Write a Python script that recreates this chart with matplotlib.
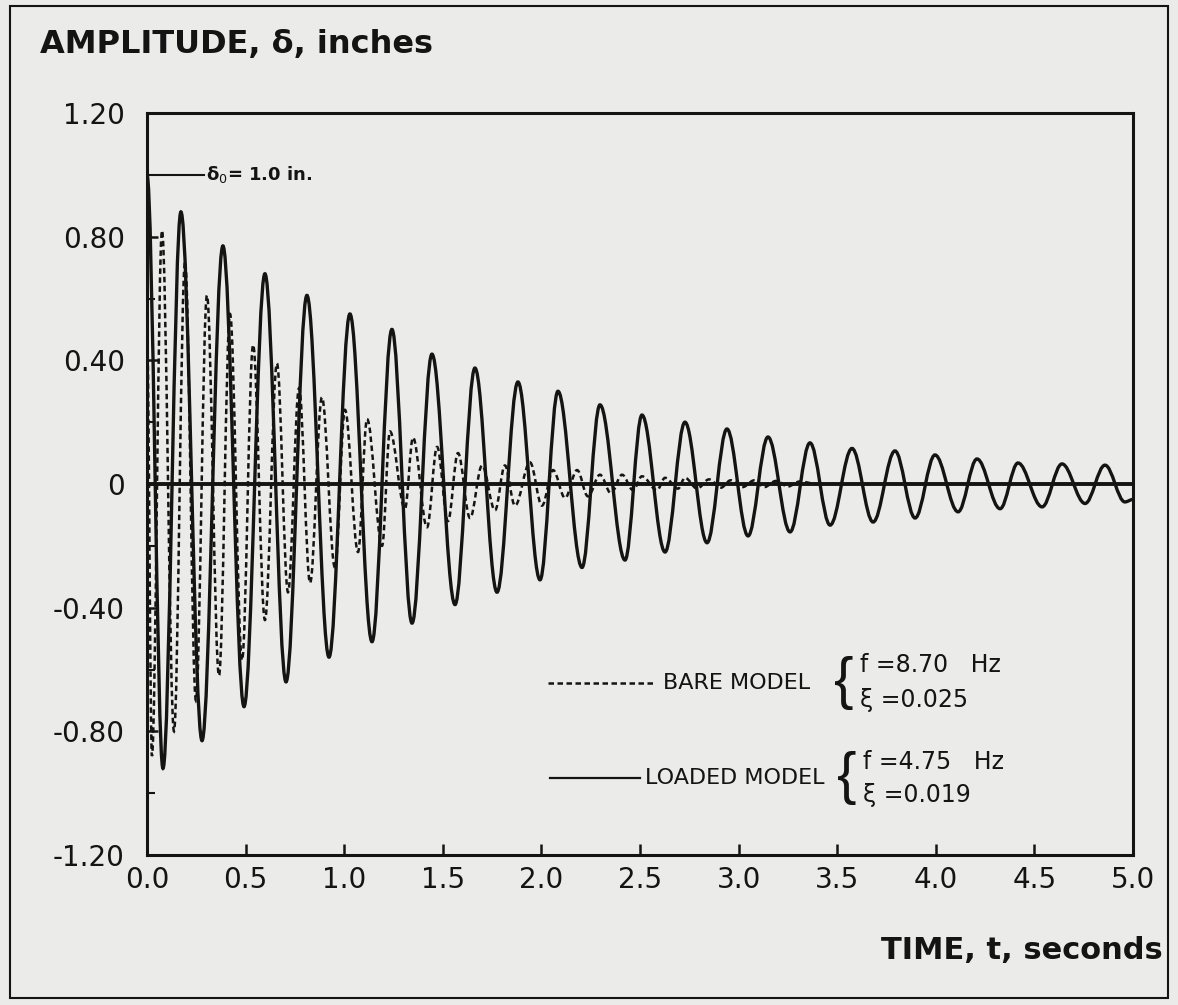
import matplotlib
matplotlib.use("Agg")
import matplotlib.pyplot as plt
from matplotlib.path import Path
from matplotlib.patches import PathPatch, Rectangle


# ----------------------------------------------------------------------
# data: turning points (time s, amplitude in)
# ----------------------------------------------------------------------

loaded_t = [0.000, 0.081, 0.172, 0.279, 0.385, 0.492, 0.598, 0.705, 0.811, 0.923,
            1.029, 1.141, 1.242, 1.344, 1.445, 1.562, 1.663, 1.775, 1.881, 1.993,
            2.084, 2.206, 2.297, 2.424, 2.510, 2.627, 2.728, 2.840, 2.941, 3.048,
            3.149, 3.261, 3.362, 3.464, 3.575, 3.682, 3.793, 3.895, 3.996, 4.113,
            4.209, 4.326, 4.417, 4.539, 4.640, 4.757, 4.858, 4.959, 5.000]
loaded_amp = [1.00, -0.92, 0.88, -0.83, 0.77, -0.72, 0.68, -0.64, 0.61, -0.56,
              0.55, -0.51, 0.50, -0.45, 0.42, -0.39, 0.375, -0.35, 0.33, -0.31,
              0.30, -0.27, 0.256, -0.246, 0.223, -0.22, 0.20, -0.19, 0.178, -0.168,
              0.152, -0.155, 0.133, -0.133, 0.115, -0.123, 0.107, -0.11, 0.094, -0.09,
              0.081, -0.08, 0.068, -0.074, 0.065, -0.063, 0.061, -0.058, -0.05]

bare_t = [0.000, 0.025, 0.076, 0.137, 0.193, 0.248, 0.304, 0.365, 0.421, 0.482,
          0.538, 0.598, 0.659, 0.715, 0.771, 0.827, 0.887, 0.953, 1.004, 1.070,
          1.116, 1.192, 1.232, 1.308, 1.349, 1.420, 1.471, 1.526, 1.577, 1.638,
          1.699, 1.765, 1.815, 1.866, 1.942, 2.003, 2.059, 2.120, 2.181, 2.236,
          2.297, 2.353, 2.409, 2.465, 2.510, 2.586, 2.627, 2.693, 2.728, 2.790,
          2.850, 2.910, 2.960, 3.020, 3.080, 3.130, 3.190, 3.250, 3.310, 3.400]
bare_amp = [0.50, -0.88, 0.82, -0.80, 0.72, -0.70, 0.61, -0.62, 0.55, -0.57,
            0.45, -0.44, 0.39, -0.35, 0.31, -0.32, 0.28, -0.27, 0.24, -0.22,
            0.21, -0.20, 0.17, -0.08, 0.15, -0.14, 0.12, -0.12, 0.10, -0.11,
            0.06, -0.085, 0.06, -0.07, 0.07, -0.07, 0.045, -0.045, 0.045, -0.04,
            0.03, -0.03, 0.03, -0.02, 0.025, -0.02, 0.02, -0.015, 0.02, -0.015,
            0.015, -0.012, 0.012, -0.01, 0.012, -0.01, 0.01, -0.008, 0.008, 0.0]

x_ticks = [0.0, 0.5, 1.0, 1.5, 2.0, 2.5, 3.0, 3.5, 4.0, 4.5, 5.0]
x_tick_labels = ["0.0", "0.5", "1.0", "1.5", "2.0", "2.5", "3.0", "3.5", "4.0", "4.5", "5.0"]
y_ticks = [1.20, 0.80, 0.40, 0.0, -0.40, -0.80, -1.20]
y_tick_labels = ["1.20", "0.80", "0.40", "0", "-0.40", "-0.80", "-1.20"]
y_minor = [1.0, 0.6, 0.2, -0.2, -0.6, -1.0]

PAPER = "#ebebe9"
INK = "#141414"
DASH = (0, (2.2, 1.4))


def turning_point_path(ts, amps, k=0.36):
    """Smooth path through the turning points, flat tangent at each one."""
    verts = [(ts[0], amps[0])]
    codes = [Path.MOVETO]
    for i in range(len(ts) - 1):
        t0, a0, t1, a1 = ts[i], amps[i], ts[i + 1], amps[i + 1]
        dt = t1 - t0
        verts += [(t0 + k * dt, a0), (t1 - k * dt, a1), (t1, a1)]
        codes += [Path.CURVE4] * 3
    return Path(verts, codes)


fig = plt.figure(figsize=(11.78, 10.05), dpi=100, facecolor=PAPER)
ax = fig.add_axes([147 / 1178, 1 - 855 / 1005, 986 / 1178, 742 / 1005])
ax.set_facecolor("none")

# curves
ax.add_patch(PathPatch(turning_point_path(bare_t, bare_amp), fill=False,
                       edgecolor=INK, lw=1.8, linestyle=DASH))
ax.add_patch(PathPatch(turning_point_path(loaded_t, loaded_amp), fill=False,
                       edgecolor=INK, lw=2.4))
ax.axhline(0, color=INK, lw=2.8)

ax.set_xlim(0, 5.0)
ax.set_ylim(-1.2, 1.2)

for s in ax.spines.values():
    s.set_linewidth(2.2)
    s.set_color(INK)

ax.set_xticks(x_ticks)
ax.set_xticklabels(x_tick_labels)
ax.set_yticks(y_ticks)
ax.set_yticklabels(y_tick_labels)
ax.set_yticks(y_minor, minor=True)
ax.tick_params(axis="both", which="major", direction="in", length=8, width=1.8,
               colors=INK, labelsize=20)
ax.tick_params(axis="y", which="minor", direction="in", length=6, width=1.5, colors=INK)
ax.tick_params(axis="x", pad=8)
ax.tick_params(axis="y", pad=16)
ax.yaxis.set_ticks_position("left")
ax.xaxis.set_ticks_position("bottom")

# delta_0 marker
ax.plot([0.045, 0.29], [1.0, 1.0], color=INK, lw=1.5)
ax.text(0.30, 1.0, r"δ$_0$= 1.0 in.", fontsize=13, va="center", ha="left",
        color=INK, fontweight="bold")

# legend block
ax.plot([0.407, 0.515], [0.232, 0.232], transform=ax.transAxes, color=INK,
        lw=1.8, linestyle=DASH)
ax.text(0.523, 0.232, "BARE MODEL", transform=ax.transAxes, fontsize=16,
        va="center", ha="left", color=INK)
ax.text(0.697, 0.232, "{", transform=ax.transAxes, fontsize=42, va="center",
        ha="left", color=INK, family="Liberation Sans")
ax.text(0.723, 0.256, "f =8.70   Hz", transform=ax.transAxes, fontsize=17,
        va="center", ha="left", color=INK)
ax.text(0.723, 0.209, "ξ =0.025", transform=ax.transAxes, fontsize=17,
        va="center", ha="left", color=INK)

ax.plot([0.409, 0.500], [0.104, 0.104], transform=ax.transAxes, color=INK, lw=1.6)
ax.text(0.505, 0.104, "LOADED MODEL", transform=ax.transAxes, fontsize=16,
        va="center", ha="left", color=INK)
ax.text(0.700, 0.104, "{", transform=ax.transAxes, fontsize=42, va="center",
        ha="left", color=INK, family="Liberation Sans")
ax.text(0.726, 0.126, "f =4.75   Hz", transform=ax.transAxes, fontsize=17,
        va="center", ha="left", color=INK)
ax.text(0.726, 0.081, "ξ =0.019", transform=ax.transAxes, fontsize=17,
        va="center", ha="left", color=INK)

# axis titles
fig.text(40 / 1178, 1 - 45 / 1005, "AMPLITUDE, δ, inches", fontsize=23,
         fontweight="bold", va="center", ha="left", color=INK)
fig.text(1163 / 1178, 1 - 950 / 1005, "TIME, t, seconds", fontsize=22,
         fontweight="bold", va="center", ha="right", color=INK)

# outer frame of the scan
fig.patches.append(Rectangle((10 / 1178, 1 - 998 / 1005), 1158 / 1178, 992 / 1005,
                             transform=fig.transFigure, fill=False,
                             edgecolor=INK, lw=1.5))

fig.savefig("out.png", dpi=100, facecolor=PAPER)
